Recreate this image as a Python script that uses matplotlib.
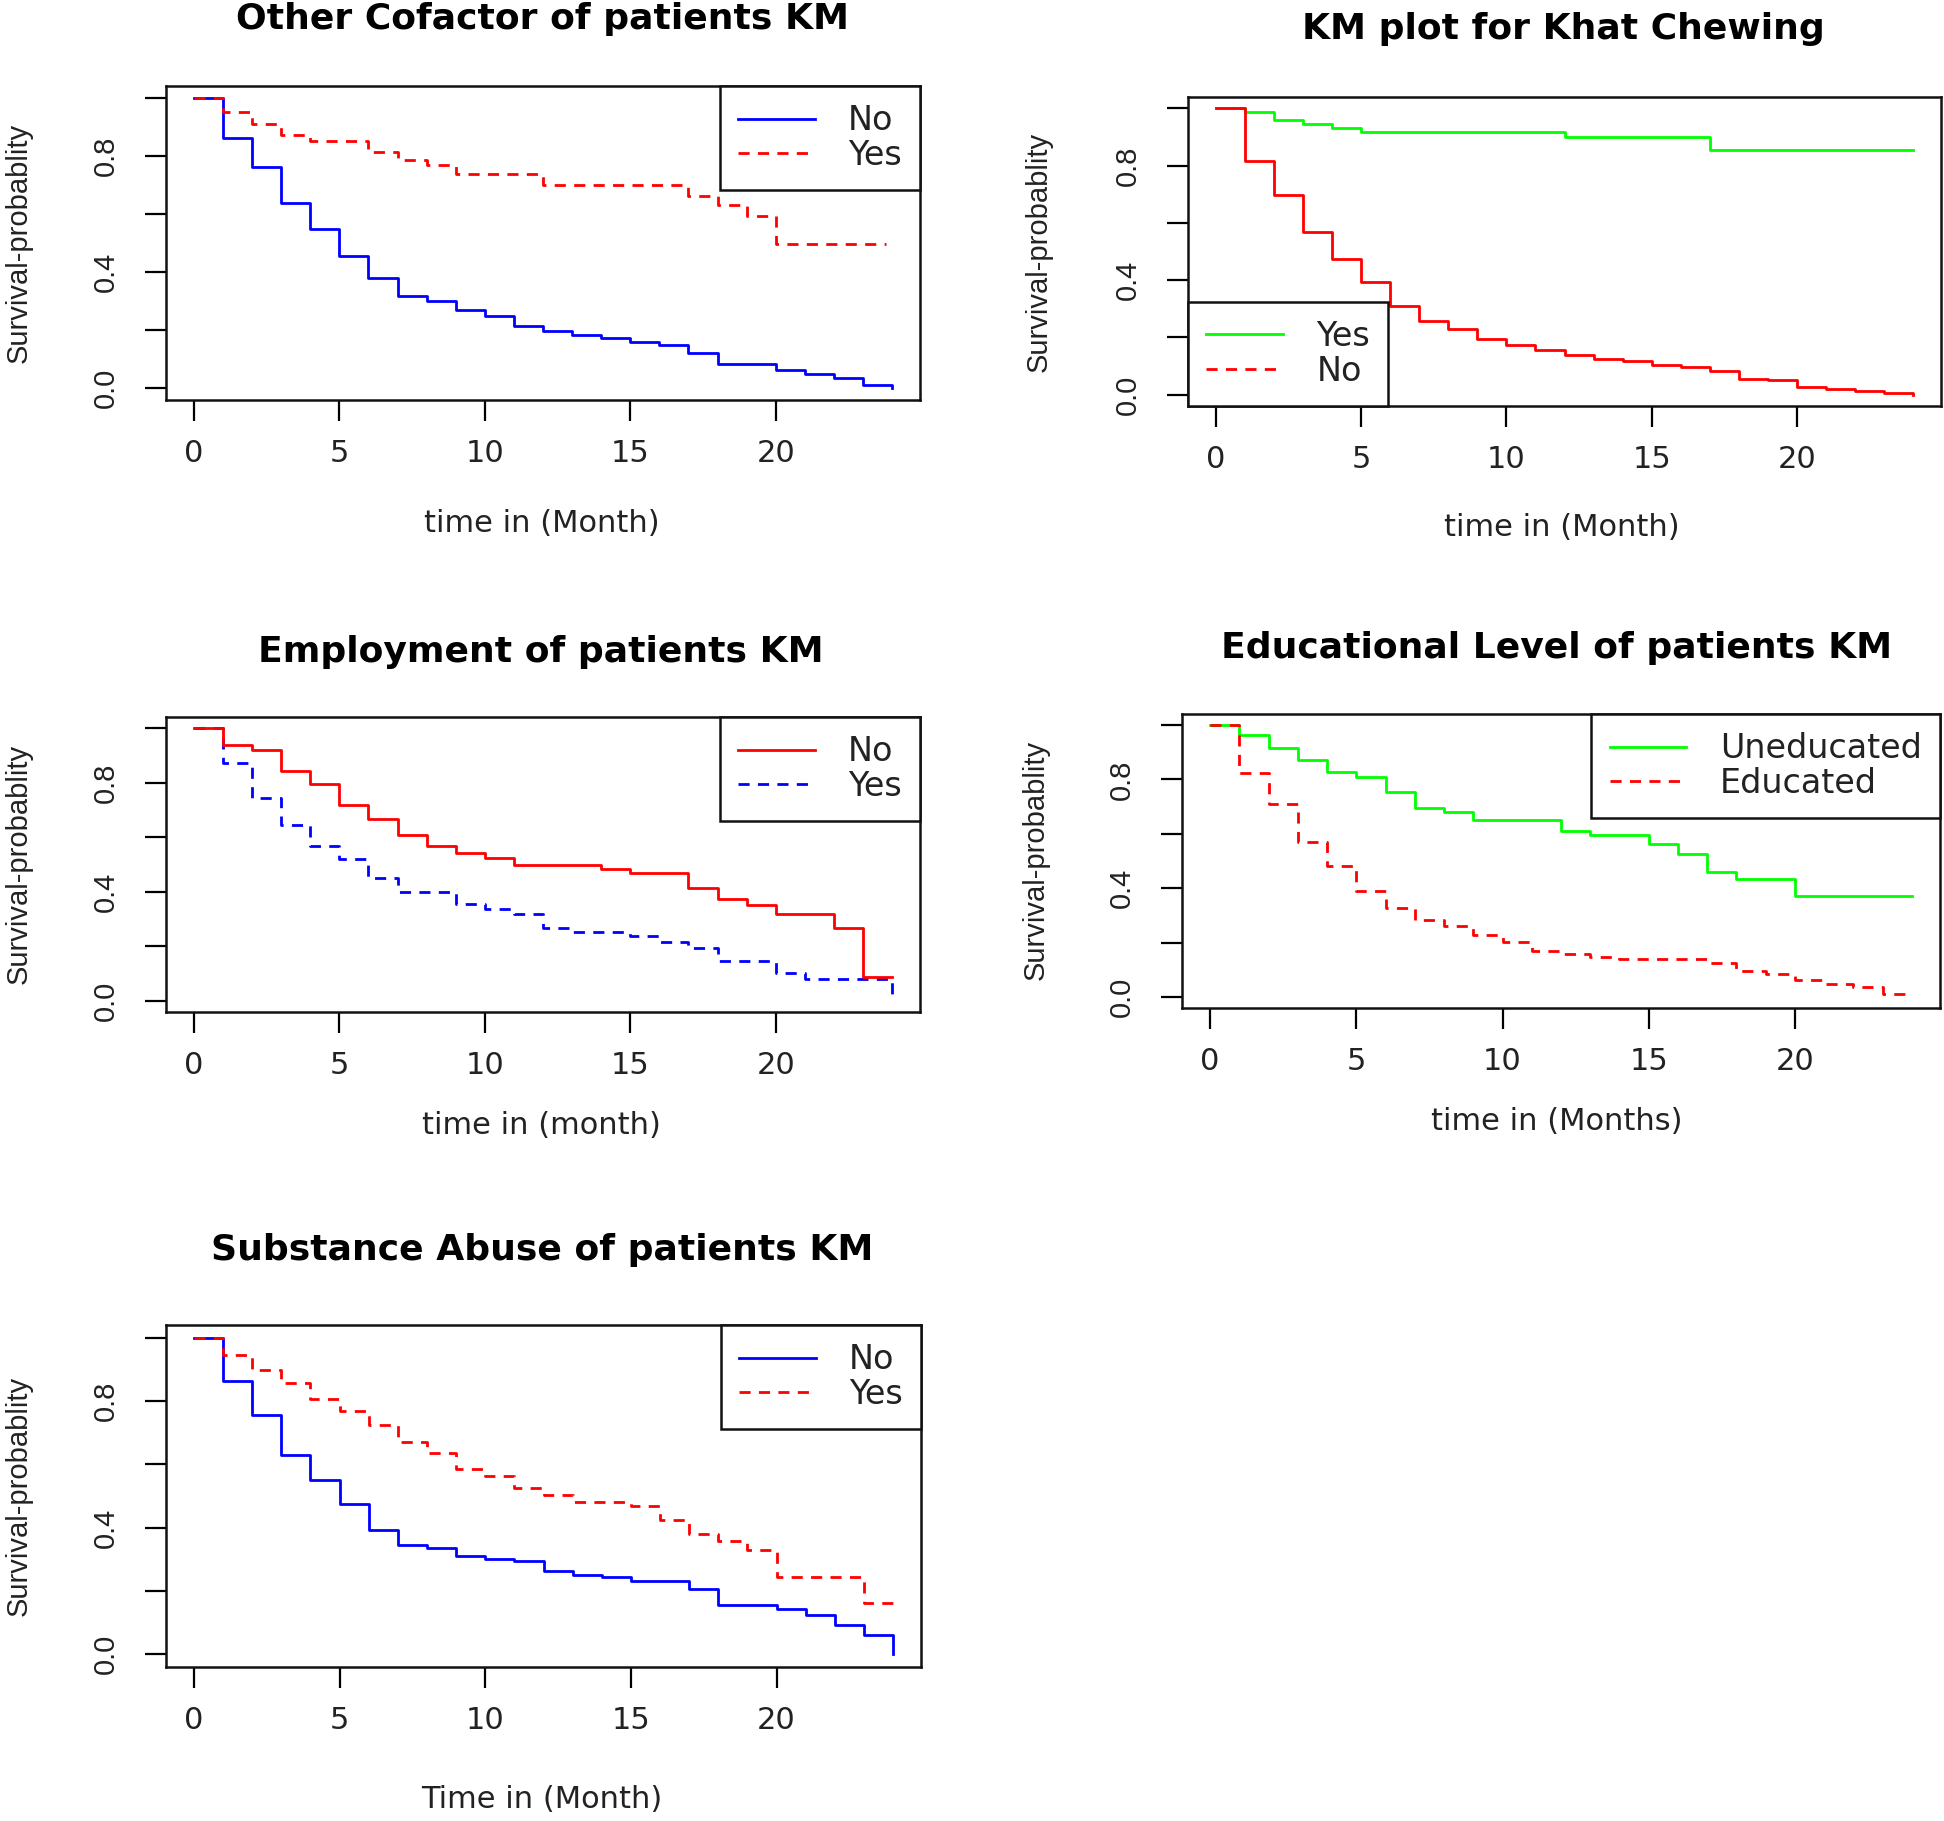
import matplotlib
matplotlib.use("Agg")
import matplotlib.pyplot as plt
from matplotlib.lines import Line2D

plt.rcParams['font.family'] = ['Liberation Sans', 'DejaVu Sans']
WIDE = ['DejaVu Sans']      # horizontal texts (reference is horizontally stretched)
NARROW = ['Liberation Sans', 'DejaVu Sans']  # vertical texts

# ---------------- data ----------------
# Panel 1: Other Cofactor
t1_no = [0, 1, 2, 3, 4, 5, 6, 7, 8, 9, 10, 11, 12, 13, 14, 15, 16, 17, 18, 20, 21, 22, 23, 24]
s1_no = [1.0, 0.862, 0.761, 0.637, 0.549, 0.457, 0.379, 0.317, 0.300, 0.268, 0.248, 0.216,
         0.198, 0.185, 0.173, 0.160, 0.148, 0.122, 0.085, 0.062, 0.048, 0.037, 0.012, 0.0]
t1_yes = [0, 1, 2, 3, 4, 6, 7, 8, 9, 12, 17, 18, 19, 20, 23.8]
s1_yes = [1.0, 0.950, 0.908, 0.870, 0.850, 0.813, 0.787, 0.767, 0.736, 0.698, 0.661, 0.629,
          0.593, 0.498, 0.498]

# Panel 2: Khat chewing
t2_yes = [0, 1, 2, 3, 4, 5, 12, 17, 24]
s2_yes = [1.0, 0.988, 0.961, 0.944, 0.930, 0.918, 0.899, 0.855, 0.855]
t2_no = [0, 1, 2, 3, 4, 5, 6, 7, 8, 9, 10, 11, 12, 13, 14, 15, 16, 17, 18, 19, 20, 21, 22, 23, 24]
s2_no = [1.0, 0.818, 0.698, 0.567, 0.474, 0.393, 0.311, 0.256, 0.230, 0.194, 0.173, 0.156,
         0.137, 0.126, 0.118, 0.105, 0.095, 0.082, 0.056, 0.050, 0.027, 0.019, 0.012, 0.005, 0.0]

# Panel 3: Employment
t3_no = [0, 1, 2, 3, 4, 5, 6, 7, 8, 9, 10, 11, 14, 15, 17, 18, 19, 20, 22, 23, 24]
s3_no = [1.0, 0.939, 0.919, 0.844, 0.795, 0.719, 0.665, 0.607, 0.568, 0.543, 0.525, 0.500,
         0.482, 0.469, 0.413, 0.375, 0.350, 0.319, 0.269, 0.087, 0.087]
t3_yes = [0, 1, 2, 3, 4, 5, 6, 7, 9, 10, 11, 12, 13, 15, 16, 17, 18, 20, 21, 24]
s3_yes = [1.0, 0.871, 0.744, 0.645, 0.569, 0.520, 0.451, 0.398, 0.357, 0.338, 0.319, 0.269,
          0.252, 0.238, 0.216, 0.195, 0.146, 0.102, 0.082, 0.021]

# Panel 4: Educational level
t4_unedu = [0, 1, 2, 3, 4, 5, 6, 7, 8, 9, 12, 13, 15, 16, 17, 18, 20, 24]
s4_unedu = [1.0, 0.963, 0.915, 0.871, 0.827, 0.809, 0.753, 0.696, 0.679, 0.652, 0.609, 0.597,
            0.563, 0.525, 0.458, 0.433, 0.370, 0.370]
t4_edu = [0, 1, 2, 3, 4, 5, 6, 7, 8, 9, 10, 11, 12, 13, 14, 17, 18, 19, 20, 21, 22, 23, 24]
s4_edu = [1.0, 0.822, 0.710, 0.571, 0.481, 0.390, 0.328, 0.283, 0.263, 0.228, 0.202, 0.170,
          0.159, 0.147, 0.139, 0.127, 0.096, 0.084, 0.063, 0.050, 0.037, 0.012, 0.012]

# Panel 5: Substance abuse
t5_no = [0, 1, 2, 3, 4, 5, 6, 7, 8, 9, 10, 11, 12, 13, 14, 15, 17, 18, 20, 21, 22, 23, 24]
s5_no = [1.0, 0.863, 0.756, 0.631, 0.550, 0.476, 0.394, 0.344, 0.337, 0.312, 0.301, 0.294,
         0.263, 0.249, 0.243, 0.232, 0.206, 0.156, 0.144, 0.124, 0.093, 0.062, 0.0]
t5_yes = [0, 1, 2, 3, 4, 5, 6, 7, 8, 9, 10, 11, 12, 13, 15, 16, 17, 18, 19, 20, 23, 24]
s5_yes = [1.0, 0.944, 0.899, 0.857, 0.806, 0.770, 0.724, 0.669, 0.637, 0.586, 0.563, 0.525,
          0.502, 0.480, 0.469, 0.425, 0.381, 0.358, 0.330, 0.243, 0.161, 0.161]

titles = ["Other Cofactor of patients KM", "KM plot for Khat Chewing",
          "Employment of patients KM", "Educational Level of patients KM",
          "Substance Abuse of patients KM"]
xlabels = ["time in (Month)", "time in (Month)", "time in (month)",
           "time in (Months)", "Time in (Month)"]
ylabel = "Survival-probablity"
x_ticks = [0, 5, 10, 15, 20]
y_ticks = [0.0, 0.2, 0.4, 0.6, 0.8, 1.0]
y_ticklabels = ["0.0", "", "0.4", "", "0.8", ""]

# ---------------- figure ----------------
W, H = 1944, 1821
fig = plt.figure(figsize=(W / 100, H / 100), dpi=100)

def px_axes(L, T, R, B):
    return fig.add_axes([L / W, 1 - B / H, (R - L) / W, (B - T) / H])

def ftext(x, y, s, **kw):
    fig.text(x / W, 1 - y / H, s, ha='center', va='center', **kw)

RED, BLUE, GREEN = '#FF0000', '#0000FF', '#00FF00'
TXT = '#222222'
LW = 2.0
DASH = (4, 3)

panels = [
    dict(box=(166, 86, 920, 400), title=(542, 19), xl=(542, 523), yl=(19, 243),
         series=[(t1_no, s1_no, BLUE, 'solid'), (t1_yes, s1_yes, RED, 'dash')],
         leg=[("No", BLUE, 'solid'), ("Yes", RED, 'dash')], loc='upper right'),
    dict(box=(1188, 97, 1941, 406), title=(1563, 29), xl=(1562, 527), yl=(1039, 252),
         series=[(t2_yes, s2_yes, GREEN, 'solid'), (t2_no, s2_no, RED, 'solid')],
         leg=[("Yes", GREEN, 'solid'), ("No", RED, 'dash')], loc='lower left'),
    dict(box=(166, 717, 920, 1012), title=(541, 652), xl=(541, 1126), yl=(19, 864),
         series=[(t3_yes, s3_yes, BLUE, 'dash'), (t3_no, s3_no, RED, 'solid')],
         leg=[("No", RED, 'solid'), ("Yes", BLUE, 'dash')], loc='upper right'),
    dict(box=(1182, 714, 1940, 1008), title=(1557, 648), xl=(1557, 1122), yl=(1036, 860),
         series=[(t4_unedu, s4_unedu, GREEN, 'solid'), (t4_edu, s4_edu, RED, 'dash')],
         leg=[("Uneducated", GREEN, 'solid'), ("Educated", RED, 'dash')], loc='upper right'),
    dict(box=(166, 1325, 921, 1667), title=(542, 1250), xl=(542, 1800), yl=(19, 1496),
         series=[(t5_no, s5_no, BLUE, 'solid'), (t5_yes, s5_yes, RED, 'dash')],
         leg=[("No", BLUE, 'solid'), ("Yes", RED, 'dash')], loc='upper right'),
]

for i, p in enumerate(panels):
    ax = px_axes(*p['box'])
    for t, s, c, style in p['series']:
        ln, = ax.step(t, s, where='post', color=c, lw=LW)
        if style == 'dash':
            ln.set_dashes(DASH)
    ax.set_xlim(-0.96, 24.96)
    ax.set_ylim(-0.04, 1.04)
    ax.set_xticks(x_ticks)
    ax.set_xticklabels([str(v) for v in x_ticks], fontsize=22, color=TXT, family=WIDE)
    ax.set_yticks(y_ticks)
    ax.set_yticklabels(y_ticklabels, fontsize=21, rotation=90, va='center', color=TXT,
                       family=NARROW)
    ax.tick_params(axis='x', length=15, width=1.6, pad=13)
    ax.tick_params(axis='y', length=15, width=1.6, pad=18)
    for sp in ax.spines.values():
        sp.set_linewidth(1.8)
        sp.set_color('#111111')
    handles = []
    for lab, c, style in p['leg']:
        h = Line2D([], [], color=c, lw=LW)
        if style == 'dash':
            h.set_dashes(DASH)
        handles.append(h)
    lg = ax.legend(handles, [l[0] for l in p['leg']], loc=p['loc'],
                   prop={'family': WIDE, 'size': 24},
                   frameon=True, fancybox=False, edgecolor='#111111', framealpha=1,
                   borderaxespad=0, borderpad=0.55, handlelength=2.3,
                   handletextpad=1.0, labelspacing=0.05)
    lg.get_frame().set_linewidth(1.8)
    for txt in lg.get_texts():
        txt.set_color(TXT)
    ftext(*p['title'], titles[i], fontsize=26, fontweight='bold', family=WIDE)
    ftext(*p['xl'], xlabels[i], fontsize=22, color=TXT, family=WIDE)
    ftext(*p['yl'], ylabel, fontsize=21, rotation=90, color=TXT, family=NARROW)

fig.savefig("out.png", dpi=100, facecolor='white')
